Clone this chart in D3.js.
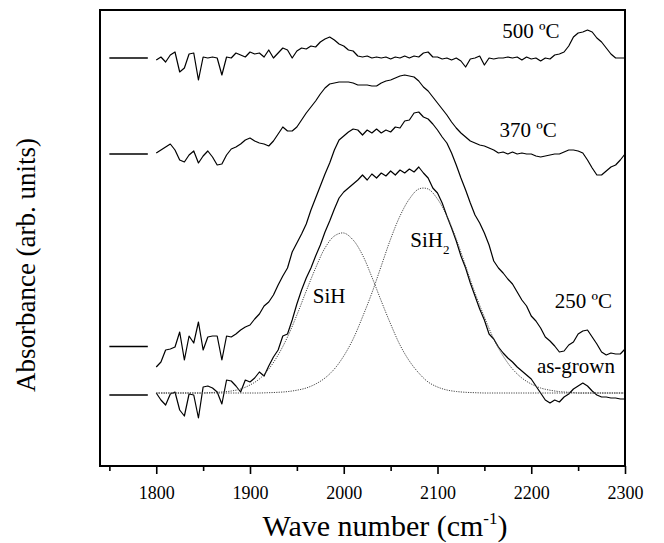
<!DOCTYPE html>
<html>
<head>
<meta charset="utf-8">
<script src="https://cdn.jsdelivr.net/npm/d3@7"></script>
<style>
  body { margin: 0; background: #fff; }
  #ftir-chart text { font-family: "Liberation Serif", "Times New Roman", serif; fill: #000; }
</style>
</head>
<body>
<div id="ftir-chart"></div>
<script>
// ---- data (absorbance in arb. units, curves already offset) ----
const waveStart = 1800;   // first wavenumber of every spectrum (cm-1)
const waveStep = 5;       // spacing of spectrum samples
const fitStep = 10;       // spacing of the gaussian fit samples

const absorb500 = [
  4.06,4.09,4.04,4.11,4.14,3.94,3.98,4.12,4.13,3.86,
  4.09,4.08,4.09,4.08,3.91,4.09,4.08,4.13,4.11,4.09,
  4.14,4.12,4.13,4.09,4.16,4.08,4.13,4.18,4.16,4.08,
  4.15,4.18,4.17,4.20,4.19,4.24,4.27,4.29,4.26,4.22,
  4.20,4.16,4.15,4.10,4.09,4.10,4.08,4.09,4.08,4.09,
  4.07,4.09,4.08,4.10,4.08,4.10,4.09,4.13,4.14,4.09,
  4.09,4.07,4.08,4.06,4.08,4.05,3.99,4.07,4.08,4.10,
  4.01,4.08,4.07,4.08,4.08,4.09,4.08,4.09,4.06,4.09,
  4.07,4.08,4.05,4.08,4.07,4.11,4.12,4.14,4.20,4.29,
  4.33,4.34,4.36,4.34,4.28,4.24,4.18,4.12,4.08,4.08,
  4.08
];

const absorb370 = [
  3.13,3.16,3.19,3.22,3.16,3.06,3.04,3.11,3.15,3.03,
  3.10,3.15,3.09,3.01,3.02,3.11,3.17,3.19,3.22,3.26,
  3.28,3.25,3.23,3.22,3.20,3.25,3.32,3.39,3.35,3.35,
  3.39,3.46,3.53,3.59,3.65,3.72,3.78,3.82,3.83,3.84,
  3.84,3.84,3.83,3.81,3.81,3.81,3.80,3.80,3.83,3.85,
  3.86,3.88,3.90,3.91,3.90,3.89,3.85,3.79,3.75,3.69,
  3.63,3.57,3.51,3.44,3.38,3.33,3.29,3.25,3.23,3.21,
  3.20,3.18,3.16,3.13,3.14,3.12,3.14,3.12,3.13,3.12,
  3.12,3.10,3.09,3.10,3.11,3.12,3.12,3.14,3.16,3.16,
  3.15,3.13,3.06,2.98,2.91,2.91,2.95,2.99,3.01,3.06,
  3.12
];

const absorb250 = [
  0.99,1.04,1.16,1.17,1.19,1.34,1.06,1.30,1.23,1.44,
  1.16,1.29,1.30,1.30,1.06,1.30,1.29,1.32,1.36,1.39,
  1.41,1.47,1.52,1.60,1.64,1.71,1.81,1.90,1.98,2.14,
  2.23,2.32,2.42,2.56,2.68,2.80,2.92,3.03,3.16,3.26,
  3.30,3.34,3.37,3.36,3.31,3.36,3.33,3.37,3.33,3.36,
  3.34,3.39,3.38,3.45,3.46,3.53,3.54,3.49,3.47,3.42,
  3.36,3.29,3.23,3.13,3.01,2.88,2.76,2.63,2.51,2.43,
  2.33,2.21,2.05,1.98,1.93,1.87,1.82,1.74,1.66,1.60,
  1.50,1.45,1.38,1.29,1.25,1.20,1.14,1.15,1.21,1.24,
  1.32,1.35,1.36,1.29,1.22,1.14,1.11,1.13,1.12,1.12,
  1.17
];

const absorbAsGrown = [
  0.73,0.66,0.61,0.72,0.74,0.56,0.50,0.72,0.71,0.48,
  0.79,0.80,0.78,0.74,0.62,0.86,0.85,0.80,0.74,0.86,
  0.84,0.88,0.94,0.90,1.00,1.09,1.16,1.30,1.32,1.46,
  1.62,1.76,1.88,1.98,2.10,2.21,2.34,2.45,2.57,2.68,
  2.74,2.78,2.82,2.86,2.91,2.86,2.92,2.88,2.93,2.90,
  2.95,2.91,2.96,2.93,2.97,2.94,2.99,2.93,2.88,2.78,
  2.73,2.63,2.50,2.38,2.25,2.10,1.98,1.83,1.70,1.57,
  1.46,1.32,1.27,1.19,1.13,1.08,1.04,0.99,0.95,0.91,
  0.87,0.80,0.73,0.66,0.63,0.66,0.64,0.69,0.72,0.77,
  0.80,0.83,0.80,0.75,0.71,0.69,0.69,0.68,0.68,0.67,
  0.67
];

const fitSiH = [
  0.73,0.73,0.73,0.73,0.73,0.73,0.735,0.74,0.75,0.77,
  0.81,0.87,0.97,1.11,1.29,1.51,1.75,1.98,2.18,2.30,
  2.33,2.26,2.11,1.89,1.65,1.42,1.21,1.05,0.93,0.84,
  0.79,0.76,0.745,0.737,0.733,0.73,0.73,0.73,0.73,0.73,
  0.73,0.73,0.73,0.73,0.73,0.73,0.73,0.73,0.73,0.73,
  0.73
];

const fitSiH2 = [
  0.73,0.73,0.73,0.73,0.73,0.73,0.73,0.73,0.73,0.73,
  0.73,0.73,0.733,0.737,0.744,0.758,0.78,0.82,0.88,0.97,
  1.10,1.27,1.49,1.73,2.00,2.27,2.50,2.67,2.77,2.77,
  2.67,2.50,2.27,2.00,1.73,1.49,1.27,1.10,0.97,0.88,
  0.82,0.78,0.758,0.744,0.737,0.73,0.73,0.73,0.73,0.73,
  0.73
];

// short zero-level markers at the left of each spectrum
const baselineLevels = [4.08, 3.12, 1.195, 0.71];
const baselineSpan = [1750, 1791];

const majorTicks = [1800, 1900, 2000, 2100, 2200, 2300];
const minorTicks = [1750, 1850, 1950, 2050, 2150, 2250];

// curve labels: text, wavenumber, absorbance of the baseline of the text
const curveLabels = [
  { text: "500 ºC", w: 2169, a: 4.28 },
  { text: "370 ºC", w: 2166, a: 3.295 },
  { text: "250 ºC", w: 2225, a: 1.58 },
  { text: "as-grown", w: 2206, a: 0.93 },
  { text: "SiH", w: 1967, a: 1.63 }
];

// ---- layout ----
const width = 664, height = 543;
const margin = { top: 10, right: 39, bottom: 77, left: 100 };
const innerW = width - margin.left - margin.right;
const innerH = height - margin.top - margin.bottom;

const svg = d3.select("#ftir-chart")
  .append("svg")
  .attr("width", width)
  .attr("height", height);

const g = svg.append("g").attr("transform", `translate(${margin.left},${margin.top})`);

const x = d3.scaleLinear().domain([1740, 2300]).range([0, innerW]);
const y = d3.scaleLinear().domain([0, 4.56]).range([innerH, 0]);

// spectra
const spectra = [absorb500, absorb370, absorb250, absorbAsGrown];
const line = d3.line()
  .x((d, i) => x(waveStart + i * waveStep))
  .y((d) => y(d));

spectra.forEach((s) => {
  g.append("path")
    .datum(s)
    .attr("d", line)
    .attr("fill", "none")
    .attr("stroke", "#000")
    .attr("stroke-width", 1.2)
    .attr("stroke-linejoin", "round");
});

// gaussian components (dotted)
const fitLine = d3.line()
  .x((d, i) => x(waveStart + i * fitStep))
  .y((d) => y(d))
  .curve(d3.curveCatmullRom);

[fitSiH, fitSiH2].forEach((f) => {
  g.append("path")
    .datum(f)
    .attr("d", fitLine)
    .attr("fill", "none")
    .attr("stroke", "#444")
    .attr("stroke-width", 1)
    .attr("stroke-dasharray", "1.2,1.2");
});

// baseline markers
g.selectAll(".base-mark")
  .data(baselineLevels)
  .enter()
  .append("line")
  .attr("class", "base-mark")
  .attr("x1", x(baselineSpan[0]))
  .attr("x2", x(baselineSpan[1]))
  .attr("y1", (d) => y(d))
  .attr("y2", (d) => y(d))
  .attr("stroke", "#000")
  .attr("stroke-width", 1.3);

// labels
g.selectAll(".curve-label")
  .data(curveLabels)
  .enter()
  .append("text")
  .attr("class", "curve-label")
  .attr("x", (d) => x(d.w))
  .attr("y", (d) => y(d.a))
  .style("font-size", "21px")
  .text((d) => d.text);

const sih2 = g.append("text")
  .attr("x", x(2071))
  .attr("y", y(2.19))
  .style("font-size", "21px");
sih2.append("tspan").text("SiH");
sih2.append("tspan").attr("dy", 7).style("font-size", "13px").text("2");

// frame
g.append("rect")
  .attr("x", x(1740))
  .attr("y", y(4.56))
  .attr("width", x(2300) - x(1740))
  .attr("height", y(0) - y(4.56))
  .attr("fill", "none")
  .attr("stroke", "#000")
  .attr("stroke-width", 2);

// x axis
const xAxis = d3.axisBottom(x)
  .tickValues(majorTicks)
  .tickFormat(d3.format("d"))
  .tickSize(8)
  .tickPadding(12);

const xAxisGroup = g.append("g")
  .attr("transform", `translate(0,${innerH})`)
  .call(xAxis);
xAxisGroup.select(".domain").remove();
xAxisGroup.selectAll(".tick line").attr("stroke-width", 1.6);
xAxisGroup.selectAll(".tick text")
  .style("font-size", "18px")
  .style("font-family", "Liberation Serif, serif");

const xMinor = g.append("g")
  .attr("transform", `translate(0,${innerH})`)
  .call(d3.axisBottom(x).tickValues(minorTicks).tickSize(5).tickFormat(""));
xMinor.select(".domain").remove();
xMinor.selectAll(".tick line").attr("stroke-width", 1.6);

// axis titles
const xTitle = svg.append("text")
  .attr("x", 385)
  .attr("y", 536)
  .attr("text-anchor", "middle")
  .style("font-size", "30px");
xTitle.append("tspan").text("Wave number (cm");
xTitle.append("tspan").attr("dy", -12).style("font-size", "17px").text("-1");
xTitle.append("tspan").attr("dy", 12).text(")");

svg.append("text")
  .attr("transform", "translate(35,265) rotate(-90)")
  .attr("text-anchor", "middle")
  .style("font-size", "27px")
  .text("Absorbance (arb. units)");
</script>
</body>
</html>
